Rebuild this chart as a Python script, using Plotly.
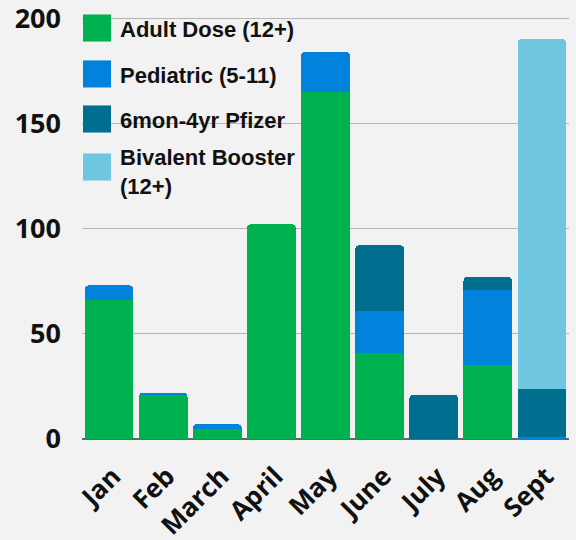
import plotly.graph_objects as go

months = ["Jan", "Feb", "March", "April", "May", "June", "July", "Aug", "Sept"]
adult = [66, 21, 4.6, 102, 165, 40.7, 0, 35, 0]
pediatric = [7, 1, 2.4, 0, 19, 20.3, 0, 36, 1]
infant = [0, 0, 0, 0, 0, 31, 21, 6, 22.6]
bivalent = [0, 0, 0, 0, 0, 0, 0, 0, 166.4]

series_names = ["Adult Dose (12+)", "Pediatric (5-11)", "6mon-4yr Pfizer", "Bivalent Booster<br>(12+)"]
series_colors = ["#00b14f", "#0082dd", "#006e8f", "#6ec6e0"]
series_values = [adult, pediatric, infant, bivalent]
y_ticks = [0, 50, 100, 150, 200]

FONT = "Open Sans"
LEG_FONT = "Liberation Sans"

fig = go.Figure()
for name, color, vals in zip(series_names, series_colors, series_values):
    fig.add_trace(go.Bar(x=months, y=vals, name=name, marker_color=color,
                         marker_line_width=0, showlegend=False))

# manual legend (large squares)
leg_y = [0.9716, 0.863, 0.7565, 0.643]
for i, (name, color, yy) in enumerate(zip(series_names, series_colors, leg_y)):
    fig.add_shape(type="rect", xref="paper", yref="paper",
                  x0=0.002, x1=0.0595, y0=yy - 0.032, y1=yy + 0.032,
                  fillcolor=color, line_width=0, layer="above")
    fig.add_annotation(xref="paper", yref="paper", x=0.074,
                       y=0.631 if i == 3 else yy - 0.003,
                       text="<b>" + name + "</b>", showarrow=False,
                       xanchor="left", yanchor="middle",
                       align="left",
                       font=dict(family=LEG_FONT, size=22, color="#111111"))

fig.update_layout(
    width=576, height=540,
    barmode="stack", bargap=0.1, barcornerradius=4,
    paper_bgcolor="#f2f2f2", plot_bgcolor="#f2f2f2",
    margin=dict(l=82, r=7, t=16, b=101),
    font=dict(family=FONT, color="#111111"),
    xaxis=dict(tickangle=-45, tickfont=dict(size=26, family=FONT, weight="bold"),
               showgrid=False, showline=False, ticks="", automargin=False,
               ticklabelstandoff=16, ticklabelshift=4),
    yaxis=dict(range=[0, 201], tickvals=y_ticks, automargin=False,
               tickfont=dict(size=27, family=FONT, weight="bold"),
               showgrid=True, gridcolor="#b5b5b5", gridwidth=1,
               zeroline=True, zerolinecolor="#666666", zerolinewidth=2,
               ticks="", ticklabelstandoff=20, ticklabeloverflow="allow"),
)

fig.write_html("out.html", config={"displayModeBar": False},
               post_script="document.body.style.margin='0';document.body.style.background='#f2f2f2';")
